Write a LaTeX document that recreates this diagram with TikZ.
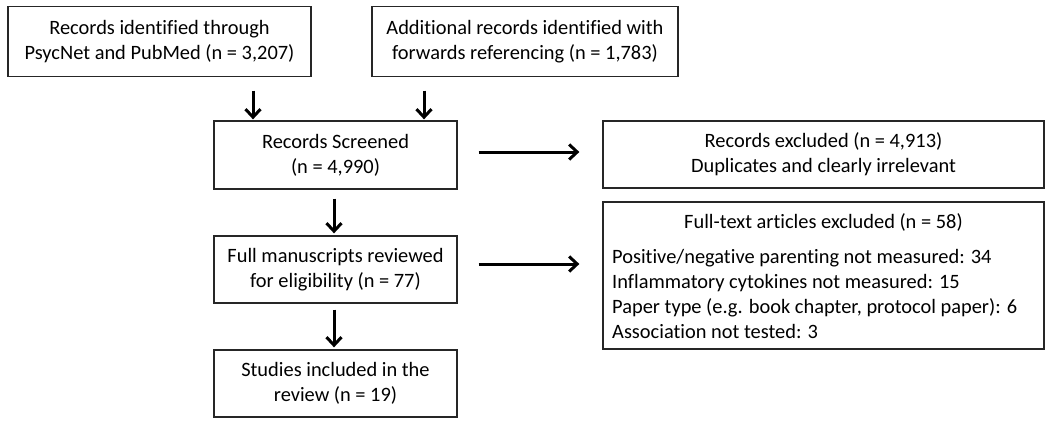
\documentclass[tikz,border=0pt]{standalone}
\usepackage{fontspec}
\setmainfont[Ligatures={NoCommon}]{Carlito}
\usetikzlibrary{arrows.meta}
\newcommand{\fsz}{\fontsize{20.4}{24.8}\selectfont}
\begin{document}
\begin{tikzpicture}[x=1pt,y=-1pt,
  box/.style={draw=black!85, line width=1.3pt, inner sep=0pt, align=center, font=\fsz},
  txt/.style={inner sep=0pt, font=\fsz},
  arr/.style={line width=3pt, -{Straight Barb[length=8pt,width=15pt]}}]
\useasboundingbox (0,0) rectangle (1050,423);
\node[box, minimum width=303pt, minimum height=70pt] (A) at (159.5,41.5) {Records identified through\\PsycNet and PubMed (n = 3,207)};
\node[box, minimum width=306pt, minimum height=70pt] (B) at (525,41.5) {Additional records identified with\\forwards referencing (n = 1,783)};
\node[box, minimum width=243pt, minimum height=68pt] (C) at (335.5,155) {Records Screened\\(n = 4,990)};
\node[box, minimum width=243pt, minimum height=67pt] (D) at (335.5,269.5) {Full manuscripts reviewed\\for eligibility (n = 77)};
\node[box, minimum width=243pt, minimum height=67pt] (E) at (335.5,383.5) {Studies included in the\\review (n = 19)};
\node[box, minimum width=441pt, minimum height=67pt] (R1) at (823.5,154.5) {Records excluded (n = 4,913)\\Duplicates and clearly irrelevant};
\node[box, minimum width=441pt, minimum height=147pt] (R2) at (823.5,275.5) {};
\node[txt] (R2t) at (823.5,222) {Full-text articles excluded (n = 58)};
\node[txt, align=left, anchor=west] (R2l) at (612,294) {Positive/negative parenting not measured: 34\\Inflammatory cytokines not measured: 15\\Paper type (e.g. book chapter, protocol paper): 6\\Association not tested: 3};
\draw[arr] ([xshift=93.5pt,yshift=-13.5pt]A.south) -- ([xshift=-82.5pt,yshift=1pt]C.north);
\draw[arr] ([xshift=-101pt,yshift=-13.5pt]B.south) -- ([xshift=88.5pt,yshift=1pt]C.north);
\draw[arr] ([xshift=-1.5pt,yshift=-9pt]C.south) -- ([xshift=-1.5pt,yshift=2pt]D.north);
\draw[arr] ([xshift=-1.5pt,yshift=-6pt]D.south) -- ([xshift=-1.5pt,yshift=2pt]E.north);
\draw[arr] ([xshift=21pt,yshift=3pt]C.east) -- ([xshift=-23pt,yshift=2.5pt]R1.west);
\draw[arr] ([xshift=21pt,yshift=5.5pt]D.east) -- ([xshift=-23pt,yshift=11.5pt]R2.west);
\end{tikzpicture}
\end{document}
